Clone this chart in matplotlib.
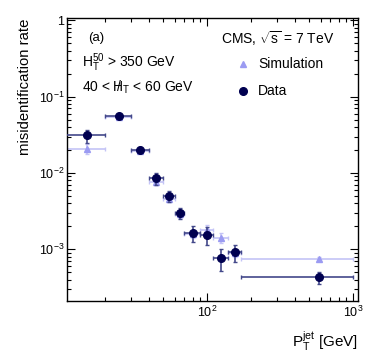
import matplotlib
matplotlib.use("Agg")
import matplotlib.pyplot as plt
import numpy as np

plt.rcParams['font.family'] = ['Liberation Sans', 'DejaVu Sans']
plt.rcParams['mathtext.fontset'] = 'custom'
plt.rcParams['mathtext.rm'] = 'Liberation Sans'
plt.rcParams['mathtext.it'] = 'Liberation Sans:italic'
plt.rcParams['mathtext.default'] = 'regular'

# bins in jet pT
bin_lo = [10, 20, 30, 40, 50, 60, 70, 90, 110, 140, 170]
bin_hi = [20, 30, 40, 50, 60, 70, 90, 110, 140, 170, 1000]

data_rate = [0.031, 0.055, 0.020, 0.0085, 0.0050, 0.0030, 0.00163, 0.00155, 0.00076, 0.00091, 0.00043]
data_err = [0.006, 0.004, 0.002, 0.0015, 0.0008, 0.0005, 0.0004, 0.0004, 0.00024, 0.00022, 0.00008]

sim_rate = [0.0207, 0.054, 0.0195, 0.0076, 0.0046, 0.0029, 0.0016, 0.0018, 0.00142, 0.0009, 0.00075]
sim_err = [0.003, 0.002, 0.001, 0.0006, 0.0004, 0.0003, 0.0002, 0.0003, 0.0002, 0.0001, 0.00003]

lo = np.array(bin_lo, float)
hi = np.array(bin_hi, float)
xc = (lo + hi) / 2
xerr = [xc - lo, hi - xc]

fig = plt.figure(figsize=(3.74, 3.63), dpi=100)
ax = fig.add_axes([0.179, 0.171, 0.778, 0.779])
ax.set_xscale('log')
ax.set_yscale('log')
ax.set_xlim(11, 1080)
ax.set_ylim(2.1e-4, 1.07)

sim_c = '#9b9bf2'
sim_e = '#c4c4f6'
dat_c = '#000050'
dat_e = '#43488a'

ax.errorbar(xc, sim_rate, xerr=xerr, yerr=sim_err, fmt='^', color=sim_c,
            ecolor=sim_e, elinewidth=1.2, capsize=1.5, ms=5, mec=sim_c, zorder=2)
ax.errorbar(xc, data_rate, xerr=xerr, yerr=data_err, fmt='o', color=dat_c,
            ecolor=dat_e, elinewidth=1.2, capsize=1.5, ms=5.5, mec=dat_c, zorder=3)

ax.set_yticks([1, 0.1, 0.01, 0.001])
ax.set_yticklabels(['1', r'$10^{-1}$', r'$10^{-2}$', r'$10^{-3}$'])
ax.set_xticks([100, 1000])
ax.set_xticklabels([r'$10^{2}$', r'$10^{3}$'])
ax.tick_params(which='both', direction='in', top=True, right=True, labelsize=9)
ax.tick_params(which='major', length=6, width=0.8, pad=3)
ax.tick_params(axis='y', which='major', pad=2)
ax.tick_params(which='minor', length=3, width=0.8)
for s in ax.spines.values():
    s.set_linewidth(1.0)

ax.set_ylabel('misidentification rate', fontsize=10.7, loc='top', labelpad=5)
fig.text(0.957, 0.028, r'$P_{T}^{jet}$ [GeV]', fontsize=11, ha='right', va='bottom')

ax.text(0.072, 0.929, '(a)', transform=ax.transAxes, fontsize=9.5, va='center')
ax.text(0.917, 0.929, r'CMS, $\sqrt{s}$ = 7 TeV', transform=ax.transAxes, fontsize=10,
        va='center', ha='right')
ax.text(0.052, 0.841, r'$H_{T}^{50}$ > 350 GeV', transform=ax.transAxes, fontsize=10, va='center')
ax.text(0.052, 0.756, r'40 < $\;/\!\!\!\!H_{T}$ < 60 GeV', transform=ax.transAxes, fontsize=10, va='center')

ax.plot([0.605], [0.837], marker='^', color=sim_c, ms=5, transform=ax.transAxes, ls='none')
ax.text(0.657, 0.837, 'Simulation', transform=ax.transAxes, fontsize=10, va='center')
ax.plot([0.605], [0.742], marker='o', color=dat_c, ms=5.5, transform=ax.transAxes, ls='none')
ax.text(0.657, 0.742, 'Data', transform=ax.transAxes, fontsize=10, va='center')

fig.savefig('out.png', dpi=100)
